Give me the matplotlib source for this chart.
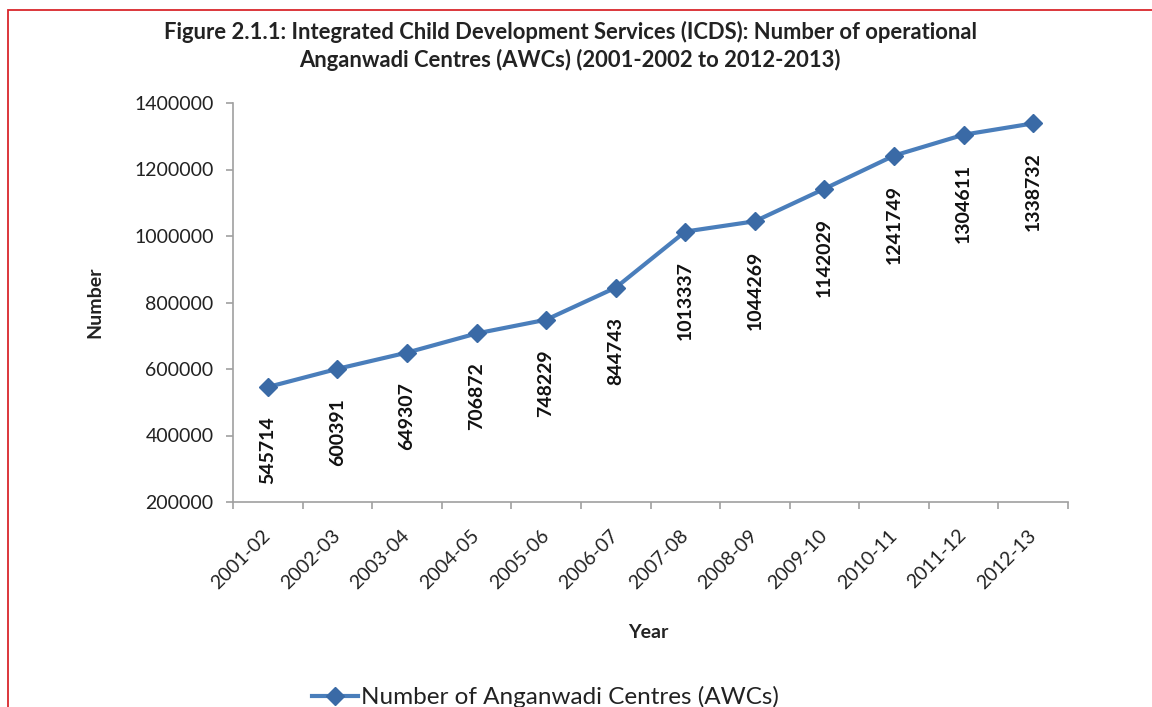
import matplotlib
matplotlib.use("Agg")
import matplotlib.pyplot as plt
from matplotlib.patches import Rectangle

years = ["2001-02", "2002-03", "2003-04", "2004-05", "2005-06", "2006-07",
         "2007-08", "2008-09", "2009-10", "2010-11", "2011-12", "2012-13"]
awcs = [545714, 600391, 649307, 706872, 748229, 844743,
        1013337, 1044269, 1142029, 1241749, 1304611, 1338732]
yticks = [200000, 400000, 600000, 800000, 1000000, 1200000, 1400000]

plt.rcParams['font.family'] = ['Lato', 'DejaVu Sans']

W, H = 1152, 707
fig = plt.figure(figsize=(W / 100, H / 100), dpi=100)

# red frame
fig.add_artist(Rectangle((8 / W, -0.1), 2.0, 1.1 - 10 / H, transform=fig.transFigure,
                         fill=False, edgecolor='#d9262c', linewidth=1.3))

ax = fig.add_axes([233 / W, 1 - 502 / H, (1068 - 233) / W, (502 - 103) / H])
x = list(range(len(years)))
line_color = '#4a7ebb'
ax.plot(x, awcs, color=line_color, linewidth=3, marker='D', markersize=9,
        markerfacecolor='#3a6aa6', markeredgecolor='#3a6aa6',
        label='Number of Anganwadi Centres (AWCs)')

for xi, v in zip(x, awcs):
    ax.annotate(str(v), (xi, v), xytext=(0, -21), textcoords='offset points',
                rotation=90, ha='center', va='top', fontsize=14, fontweight='bold',
                color='#111111')

ax.set_xlim(-0.5, len(years) - 0.5)
ax.set_ylim(200000, 1400000)
ax.set_yticks(yticks)
ax.set_yticklabels([str(t) for t in yticks], fontsize=14, color='#222222')
ax.set_xticks([i + 0.5 for i in range(-1, len(years))], minor=False)
ax.set_xticklabels([])
ax.set_xticks(x, minor=True)
ax.set_xticklabels(years, minor=True, rotation=45, ha='right', va='center',
                   rotation_mode='anchor', fontsize=14, color='#222222')
ax.tick_params(axis='x', which='minor', length=0, pad=22)
ax.tick_params(axis='x', which='major', length=5, color='#a0a0a0', width=1.2)
ax.tick_params(axis='y', length=5, color='#a0a0a0', width=1.2, pad=9)

for s in ['top', 'right']:
    ax.spines[s].set_visible(False)
for s in ['left', 'bottom']:
    ax.spines[s].set_color('#a0a0a0')
    ax.spines[s].set_linewidth(1.2)

ax.set_ylabel('Number', fontsize=14, fontweight='bold', color='#222222', labelpad=22)
fig.text(648 / W, 1 - 632 / H, 'Year', fontsize=14, fontweight='bold', color='#222222',
         ha='center', va='center')

fig.text(570 / W, 1 - 32 / H,
         'Figure 2.1.1: Integrated Child Development Services (ICDS): Number of operational',
         fontsize=15.8, fontweight='bold', color='#222222', ha='center', va='center')
fig.text(570 / W, 1 - 60 / H,
         'Anganwadi Centres (AWCs) (2001-2002 to 2012-2013)',
         fontsize=15.8, fontweight='bold', color='#222222', ha='center', va='center')

leg = fig.legend(loc='center left', bbox_to_anchor=(312 / W, 1 - 697 / H), frameon=False,
                 fontsize=17.5, handlelength=1.9, handletextpad=0.1, borderaxespad=0,
                 borderpad=0)
for t in leg.get_texts():
    t.set_color('#222222')

fig.savefig('out.png', dpi=100)
